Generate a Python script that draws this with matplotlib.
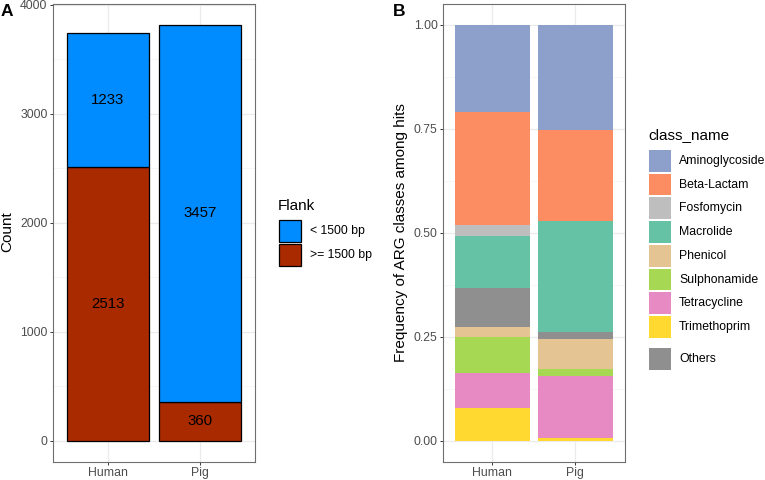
import numpy as np
import matplotlib
matplotlib.use("Agg")
from matplotlib import pyplot as plt
from matplotlib.patches import Rectangle

plt.rcParams['font.family'] = ['Liberation Sans', 'DejaVu Sans']

# panel A data
hosts = ["Human", "Pig"]
flank_labels = ["< 1500 bp", ">= 1500 bp"]
short_counts = [1233, 3457]
long_counts = [2513, 360]
flank_colors = ["#008BFF", "#AA2A00"]

# panel B data, stacked bottom -> top
classes = ["Trimethoprim", "Tetracycline", "Sulphonamide", "Phenicol", "Others",
           "Macrolide", "Fosfomycin", "Beta-Lactam", "Aminoglycoside"]
human_frac = [0.079, 0.084, 0.0864, 0.0232, 0.0952, 0.124, 0.0272, 0.2704, 0.2104]
pig_frac = [0.0064, 0.1504, 0.0152, 0.072, 0.0168, 0.2688, 0.0, 0.2184, 0.252]
class_colors = {
    "Aminoglycoside": "#8DA0CB",
    "Beta-Lactam": "#FC8D62",
    "Fosfomycin": "#BEBEBE",
    "Macrolide": "#66C2A5",
    "Phenicol": "#E5C494",
    "Sulphonamide": "#A6D854",
    "Tetracycline": "#E78AC3",
    "Trimethoprim": "#FFD92F",
    "Others": "#8F8F8F",
}

W, H = 765, 480
fig = plt.figure(figsize=(W / 100, H / 100), dpi=100)


def fx(x):
    return x / W


def fy(y):
    return 1 - y / H


def style_axis(ax):
    ax.set_facecolor("white")
    for s in ax.spines.values():
        s.set_color("#6E6E6E")
        s.set_linewidth(0.8)
    ax.tick_params(axis="both", colors="#333333", labelcolor="#4D4D4D",
                   labelsize=8.8, length=2.5, width=0.7, pad=1.2)
    ax.grid(True, which="major", color="#EBEBEB", linewidth=0.9)
    ax.grid(True, which="minor", axis="y", color="#F3F3F3", linewidth=0.5)
    ax.set_axisbelow(True)
    ax.tick_params(axis="y", which="minor", length=0)


# ---- panel A
axA = fig.add_axes([fx(52.7), fy(461.7), fx(255.3) - fx(52.7), fy(4) - fy(461.7)])
style_axis(axA)
xpos = np.arange(1, len(hosts) + 1)
axA.bar(xpos, long_counts, width=0.9, color=flank_colors[1], edgecolor="black", linewidth=0.9)
axA.bar(xpos, short_counts, width=0.9, bottom=long_counts, color=flank_colors[0],
        edgecolor="black", linewidth=0.9)
for i in range(len(hosts)):
    axA.text(xpos[i], long_counts[i] / 2, str(long_counts[i]), ha="center", va="center", fontsize=10.8)
    axA.text(xpos[i], long_counts[i] + short_counts[i] / 2, str(short_counts[i]),
             ha="center", va="center", fontsize=10.8)
tot = max(a + b for a, b in zip(short_counts, long_counts))
axA.set_ylim(-0.05 * tot, 1.05 * tot)
axA.set_xlim(0.4, 2.6)
axA.set_yticks([0, 1000, 2000, 3000, 4000])
axA.set_yticks([500, 1500, 2500, 3500], minor=True)
axA.set_xticks(xpos)
axA.set_xticklabels(hosts)

# ---- panel B
axB = fig.add_axes([fx(442.7), fy(461.7), fx(625) - fx(442.7), fy(4) - fy(461.7)])
style_axis(axB)
hb = np.array(human_frac) / sum(human_frac)
pb = np.array(pig_frac) / sum(pig_frac)
bot = np.zeros(2)
for k, c in enumerate(classes):
    vals = np.array([hb[k], pb[k]])
    axB.bar(xpos, vals, width=0.9, bottom=bot, color=class_colors[c], linewidth=0)
    bot += vals
axB.set_ylim(-0.05, 1.05)
axB.set_xlim(0.4, 2.6)
axB.set_yticks([0, 0.25, 0.5, 0.75, 1.0])
axB.set_yticklabels(["0.00", "0.25", "0.50", "0.75", "1.00"])
axB.set_yticks([0.125, 0.375, 0.625, 0.875], minor=True)
axB.set_xticks(xpos)
axB.set_xticklabels(hosts)

# axis titles and panel tags
fig.text(fx(7), fy(232), "Count", rotation=90, ha="center", va="center", fontsize=11)
fig.text(fx(401), fy(233), "Frequency of ARG classes among hits", rotation=90,
         ha="center", va="center", fontsize=11)
fig.text(fx(1), fy(11), "A", fontsize=12.5, fontweight="bold", ha="left", va="center")
fig.text(fx(393), fy(11), "B", fontsize=12.5, fontweight="bold", ha="left", va="center")

# Flank legend
fig.text(fx(278), fy(206), "Flank", fontsize=11, ha="left", va="center")
for i, (lab, col) in enumerate(zip(flank_labels, flank_colors)):
    top = 220 + i * 24
    fig.patches.append(Rectangle((fx(279), fy(top + 22)), fx(22), 22 / H, facecolor=col,
                                 edgecolor="black", linewidth=0.9, transform=fig.transFigure))
    fig.text(fx(310), fy(top + 11), lab, fontsize=8.8, ha="left", va="center")

# class_name legend
fig.text(fx(648), fy(135), "class_name", fontsize=11, ha="left", va="center")
legend_order = ["Aminoglycoside", "Beta-Lactam", "Fosfomycin", "Macrolide", "Phenicol",
                "Sulphonamide", "Tetracycline", "Trimethoprim"]
for i, c in enumerate(legend_order):
    top = 150 + i * 23.7
    fig.patches.append(Rectangle((fx(649), fy(top + 21.7)), fx(21.5), 21.7 / H,
                                 facecolor=class_colors[c], linewidth=0, transform=fig.transFigure))
    fig.text(fx(679), fy(top + 11), c, fontsize=8.8, ha="left", va="center")
fig.patches.append(Rectangle((fx(649), fy(369.5)), fx(21.5), 21.7 / H,
                             facecolor=class_colors["Others"], linewidth=0, transform=fig.transFigure))
fig.text(fx(679), fy(359), "Others", fontsize=8.8, ha="left", va="center")

fig.savefig("out.png", dpi=100)
